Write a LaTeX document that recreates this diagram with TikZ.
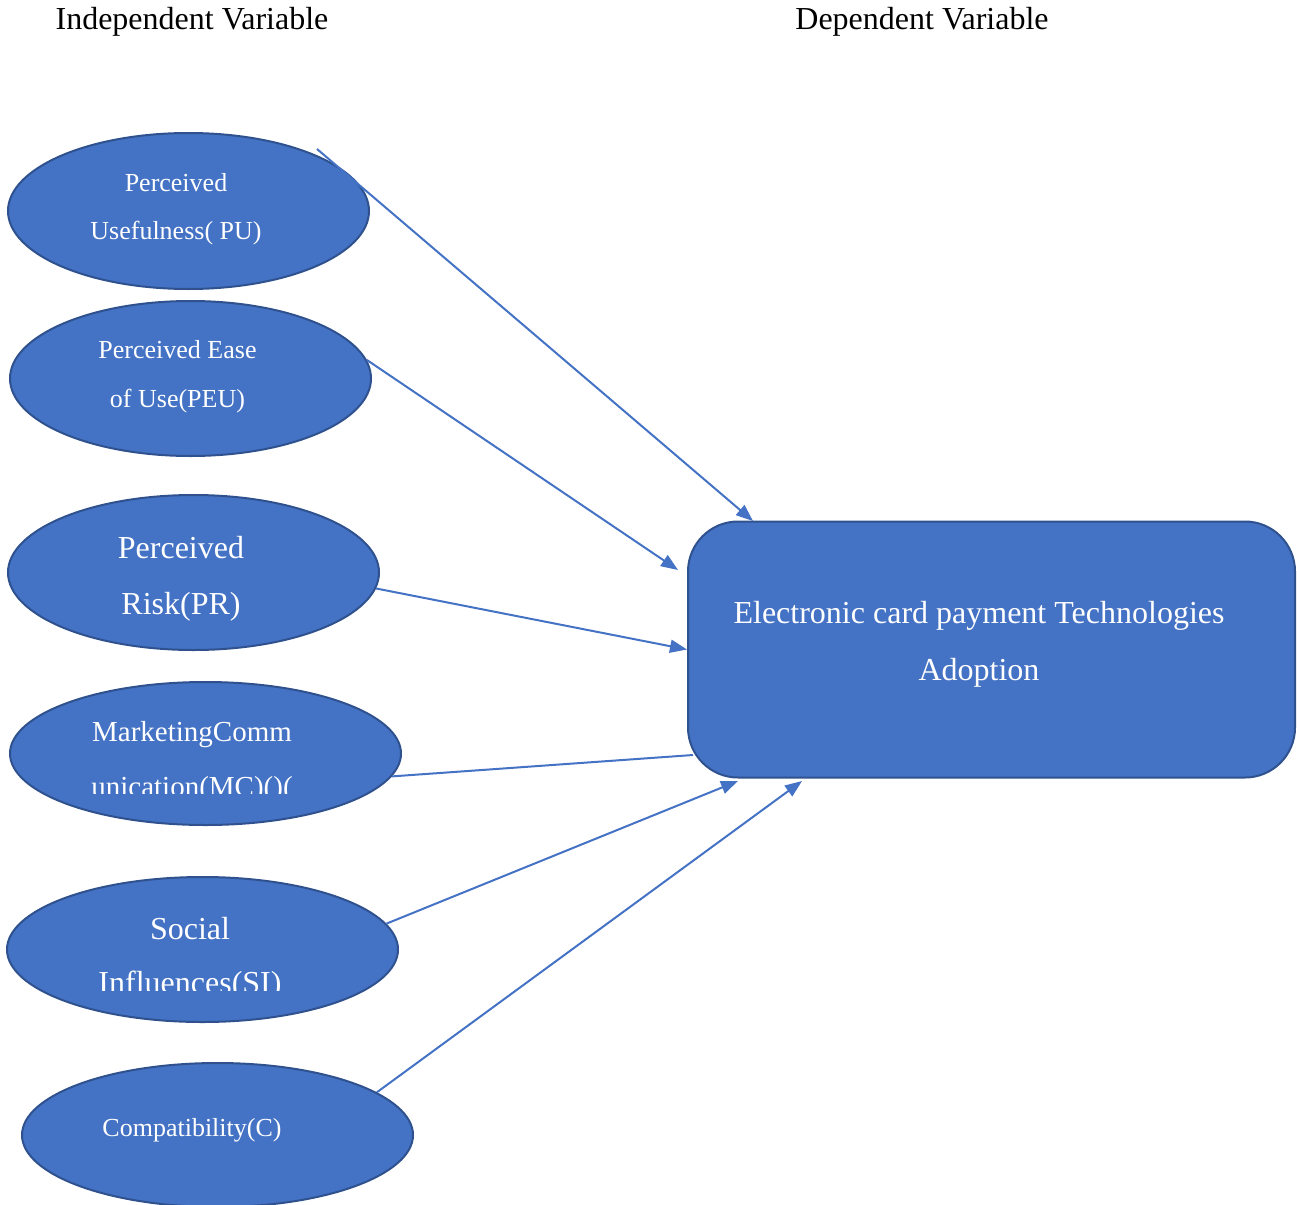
\documentclass[tikz,border=0pt]{standalone}
\usepackage{fontspec}
\setmainfont{Liberation Serif}
\usetikzlibrary{arrows.meta,shapes.geometric}
\definecolor{boxblue}{HTML}{4472C4}
\definecolor{rimblue}{HTML}{2F528F}
\tikzset{
	oval/.style={ellipse, fill=boxblue, draw=rimblue, line width=2pt, inner sep=0pt},
	lbl/.style={text=white, align=center, anchor=base, inner sep=0pt},
	link/.style={draw=boxblue, line width=2pt},
	tip/.style={-{Triangle[length=17pt,width=13pt]}},
}
\newcommand{\fsz}[2]{\fontsize{#1}{#2}\selectfont}
\begin{document}
\begin{tikzpicture}[x=1pt,y=-1pt]
	\useasboundingbox (0,0) rectangle (1297,1204);
	\node[anchor=base, font=\fsz{32}{38}] (indep) at (192,30) {Independent Variable};
	\node[anchor=base, font=\fsz{32}{38}] (dep) at (922,30) {Dependent Variable};
	% independent variables
	\node[oval, minimum width=361, minimum height=156] (pu) at (188.5,211) {};
	\node[oval, minimum width=361, minimum height=155] (peu) at (190.5,378.5) {};
	\node[oval, minimum width=371, minimum height=155] (pr) at (193.5,572.5) {};
	\node[oval, minimum width=391, minimum height=143] (mc) at (205.5,753.5) {};
	\node[oval, minimum width=391, minimum height=145] (si) at (202.5,949.5) {};
	\node[oval, minimum width=391, minimum height=144] (c) at (217.5,1135) {};
	\node[lbl, font=\fsz{26}{48}] (putxt) at (176,239) {Perceived\\Usefulness( PU)};
	\node[lbl, font=\fsz{26}{49}] (peutxt) at (177.5,407) {Perceived Ease\\of Use(PEU)};
	\node[lbl, font=\fsz{32}{56}] (prtxt) at (181,614) {Perceived\\Risk(PR)};
	\begin{scope}
	\clip (0,0) rectangle (1297,793);
	\node[lbl, font=\fsz{29}{55}] (mctxt) at (192,796) {MarketingComm\\unication(MC)()(};
	\end{scope}
	\begin{scope}
	\clip (0,0) rectangle (1297,990);
	\node[lbl, font=\fsz{32}{54}] (sitxt) at (190,993) {Social\\Influences(SI)};
	\end{scope}
	\node[lbl, font=\fsz{26}{30}] (ctxt) at (192,1136) {Compatibility(C)};
	% dependent variable
	\coordinate (mcend) at (693,755);
	\draw[link] (mc.-7) -- (mcend);
	\node[fill=boxblue, draw=rimblue, line width=2pt, rounded corners=50pt,
		minimum width=607, minimum height=256] (adopt) at (991.5,649.5) {};
	\node[lbl, font=\fsz{32}{57}] (adopttxt) at (979,680) {Electronic card payment Technologies\\Adoption};
	% arrows
	\coordinate (pustart) at (317,149);
	\coordinate (puend) at (753,521);
	\coordinate (peuend) at (678,570);
	\coordinate (siend) at (738,781);
	\coordinate (cend) at (802,781);
	\draw[link, tip] (pustart) -- (puend);
	\draw[link, tip] (peu.6) -- (peuend);
	\draw[link, tip] (pr.-5) -- (adopt.west);
	\draw[link, tip] (si.8) -- (siend);
	\draw[link, tip] (c.15) -- (cend);
\end{tikzpicture}
\end{document}
